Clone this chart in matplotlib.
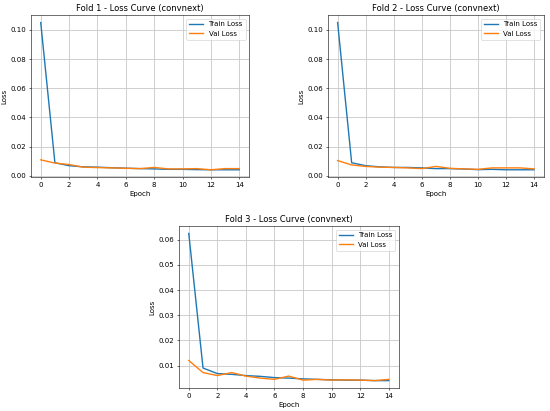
import numpy as np
import matplotlib
matplotlib.use('Agg')
import matplotlib.pyplot as plt

epochs = np.arange(15)

# Fold 1
train_f1 = [0.105, 0.0090, 0.0070, 0.0062, 0.0060, 0.0056, 0.0053, 0.0050, 0.0048,
            0.0045, 0.0045, 0.0043, 0.0042, 0.0042, 0.0042]
val_f1 = [0.0110, 0.0088, 0.0078, 0.0060, 0.0057, 0.0055, 0.0052, 0.0050, 0.0058,
          0.0048, 0.0048, 0.0050, 0.0042, 0.0050, 0.0050]

# Fold 2
train_f2 = [0.105, 0.0090, 0.0070, 0.0062, 0.0058, 0.0058, 0.0055, 0.0050, 0.0050,
            0.0047, 0.0043, 0.0045, 0.0042, 0.0042, 0.0042]
val_f2 = [0.0105, 0.0075, 0.0065, 0.0060, 0.0058, 0.0055, 0.0050, 0.0065, 0.0052,
          0.0048, 0.0045, 0.0055, 0.0055, 0.0055, 0.0048]

# Fold 3
train_f3 = [0.0625, 0.0090, 0.0068, 0.0065, 0.0060, 0.0057, 0.0052, 0.0050, 0.0047,
            0.0045, 0.0043, 0.0042, 0.0042, 0.0040, 0.0040]
val_f3 = [0.0120, 0.0072, 0.0060, 0.0072, 0.0058, 0.0050, 0.0045, 0.0058, 0.0042,
          0.0045, 0.0042, 0.0043, 0.0042, 0.0040, 0.0045]

folds = [(train_f1, val_f1), (train_f2, val_f2), (train_f3, val_f3)]

fig = plt.figure(figsize=(11, 8.22), dpi=50)
positions = [[0.056, 0.569, 0.397, 0.394],
             [0.596, 0.569, 0.393, 0.394],
             [0.325, 0.056, 0.400, 0.394]]

for i, (tr, va) in enumerate(folds):
    ax = fig.add_axes(positions[i])
    ax.plot(epochs, tr, label='Train Loss', lw=2)
    ax.plot(epochs, va, label='Val Loss', lw=2)
    ax.set_title(f'Fold {i+1} - Loss Curve (convnext)')
    ax.set_xlabel('Epoch')
    ax.set_ylabel('Loss')
    ax.set_xticks(np.arange(0, 15, 2))
    ax.legend(loc='upper right')
    ax.grid(True, color='#c8c8c8', lw=1.2)

fig.savefig('out.png', dpi=50)
